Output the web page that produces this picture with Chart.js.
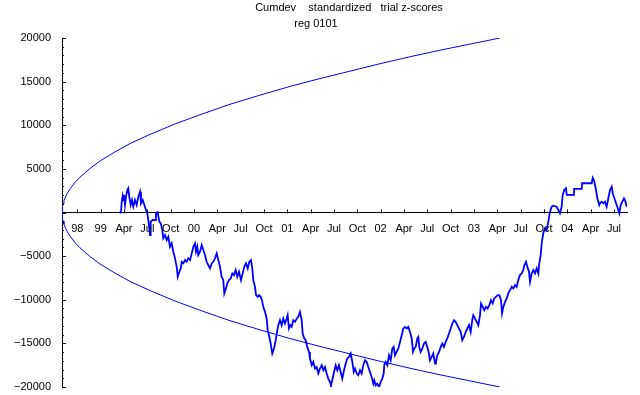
<!DOCTYPE html>
<html lang="en">
<head>
  <meta charset="UTF-8">
  <title>Cumdev standardized trial z-scores</title>
  <script src="https://cdn.jsdelivr.net/npm/chart.js"></script>
  <style>
    body, html {
      margin: 0;
      background: #fff;
    }
    #wrap {
      width: 640px;
      height: 395px;
    }
  </style>
</head>
<body>
  <div id="wrap"><canvas id="chart" width="640" height="395"></canvas></div>

  <script>
    // x values are decimal years, y values are cumulative deviation
    const titleText = 'Cumdev    standardized   trial z-scores';
    const subtitleText = 'reg 0101';

    const xMin = 1998.586;
    const xMax = 2004.64;

    const tickPositions = [1998.75, 1999.0, 1999.25, 1999.5, 1999.75, 2000.0, 2000.25, 2000.5, 2000.75,
      2001.0, 2001.25, 2001.5, 2001.75, 2002.0, 2002.25, 2002.5, 2002.75, 2003.0, 2003.25, 2003.5,
      2003.75, 2004.0, 2004.25, 2004.5];
    const tickLabels = ['98', '99', 'Apr', 'Jul', 'Oct', '00', 'Apr', 'Jul', 'Oct', '01', 'Apr', 'Jul',
      'Oct', '02', 'Apr', 'Jul', 'Oct', '03', 'Apr', 'Jul', 'Oct', '04', 'Apr', 'Jul'];
    const yTicks = [-20000, -15000, -10000, -5000, 0, 5000, 10000, 15000, 20000];

    // envelope curve
    const envDates = [1998.586, 1998.591, 1998.597, 1998.607, 1998.618, 1998.640, 1998.672, 1998.725,
      1998.779, 1998.886, 1998.993, 1999.154, 1999.315, 1999.529, 1999.797, 2000.065, 2000.386,
      2000.708, 2001.029, 2001.350, 2001.672, 2001.993, 2002.315, 2002.636, 2002.958, 2003.279];
    const envUpper = [0, 700, 1000, 1350, 1650, 2150, 2700, 3450, 4050, 5050, 5900, 6950, 7900, 8950,
      10150, 11200, 12400, 13450, 14450, 15350, 16200, 17050, 17850, 18600, 19300, 20000];
    const envLower = [0, -700, -1000, -1350, -1650, -2150, -2700, -3450, -4050, -5050, -5900, -6950,
      -7900, -8950, -10150, -11200, -12400, -13450, -14450, -15350, -16200, -17050, -17850, -18600,
      -19300, -20000];

    const dates = [1999.200, 1999.218, 1999.226, 1999.236, 1999.243, 1999.250, 1999.261, 1999.272, 1999.286,
      1999.296, 1999.307, 1999.322, 1999.336, 1999.350, 1999.368, 1999.386, 1999.404, 1999.422, 1999.432,
      1999.451, 1999.468, 1999.486, 1999.500, 1999.511, 1999.529, 1999.536, 1999.558, 1999.583, 1999.593,
      1999.611, 1999.629, 1999.644, 1999.661, 1999.671, 1999.690, 1999.708, 1999.725, 1999.743, 1999.761,
      1999.779, 1999.797, 1999.815, 1999.826, 1999.843, 1999.858, 1999.869, 1999.886, 1999.904, 1999.922,
      1999.939, 1999.958, 1999.976, 1999.993, 2000.011, 2000.022, 2000.036, 2000.046, 2000.065, 2000.083,
      2000.100, 2000.118, 2000.136, 2000.154, 2000.172, 2000.190, 2000.207, 2000.225, 2000.244, 2000.261,
      2000.279, 2000.297, 2000.314, 2000.325, 2000.343, 2000.357, 2000.375, 2000.394, 2000.411, 2000.429,
      2000.447, 2000.464, 2000.483, 2000.504, 2000.522, 2000.539, 2000.558, 2000.576, 2000.593, 2000.611,
      2000.625, 2000.636, 2000.654, 2000.665, 2000.683, 2000.697, 2000.715, 2000.729, 2000.743, 2000.761,
      2000.779, 2000.790, 2000.804, 2000.822, 2000.839, 2000.858, 2000.876, 2000.890, 2000.904, 2000.922,
      2000.940, 2000.957, 2000.975, 2000.994, 2001.004, 2001.018, 2001.032, 2001.047, 2001.064, 2001.083,
      2001.101, 2001.118, 2001.136, 2001.154, 2001.165, 2001.182, 2001.197, 2001.214, 2001.233, 2001.243,
      2001.262, 2001.279, 2001.297, 2001.315, 2001.332, 2001.350, 2001.369, 2001.386, 2001.404, 2001.422,
      2001.439, 2001.458, 2001.468, 2001.482, 2001.501, 2001.519, 2001.536, 2001.554, 2001.572, 2001.589,
      2001.608, 2001.626, 2001.643, 2001.661, 2001.679, 2001.697, 2001.712, 2001.726, 2001.744, 2001.761,
      2001.779, 2001.797, 2001.814, 2001.833, 2001.851, 2001.868, 2001.886, 2001.904, 2001.922, 2001.932,
      2001.947, 2001.964, 2001.983, 2002.001, 2002.018, 2002.033, 2002.039, 2002.054, 2002.072, 2002.090,
      2002.108, 2002.125, 2002.140, 2002.154, 2002.172, 2002.190, 2002.208, 2002.226, 2002.243, 2002.261,
      2002.279, 2002.297, 2002.315, 2002.333, 2002.347, 2002.361, 2002.376, 2002.393, 2002.404, 2002.414,
      2002.429, 2002.447, 2002.465, 2002.483, 2002.500, 2002.518, 2002.529, 2002.547, 2002.564, 2002.583,
      2002.593, 2002.607, 2002.626, 2002.644, 2002.661, 2002.679, 2002.697, 2002.714, 2002.733, 2002.751,
      2002.768, 2002.786, 2002.804, 2002.822, 2002.840, 2002.858, 2002.875, 2002.893, 2002.912, 2002.929,
      2002.947, 2002.965, 2002.982, 2002.993, 2003.011, 2003.030, 2003.047, 2003.065, 2003.076, 2003.094,
      2003.111, 2003.129, 2003.147, 2003.165, 2003.183, 2003.201, 2003.218, 2003.236, 2003.255, 2003.272,
      2003.290, 2003.301, 2003.315, 2003.333, 2003.351, 2003.368, 2003.386, 2003.405, 2003.422, 2003.440,
      2003.458, 2003.475, 2003.493, 2003.512, 2003.529, 2003.540, 2003.558, 2003.572, 2003.590, 2003.601,
      2003.619, 2003.636, 2003.654, 2003.672, 2003.690, 2003.700, 2003.715, 2003.726, 2003.743, 2003.761,
      2003.780, 2003.797, 2003.815, 2003.833, 2003.850, 2003.886, 2003.904, 2003.922, 2003.940, 2003.951,
      2003.968, 2003.986, 2003.994, 2004.072, 2004.073, 2004.155, 2004.158, 2004.262, 2004.273, 2004.286,
      2004.308, 2004.322, 2004.343, 2004.351, 2004.369, 2004.386, 2004.404, 2004.422, 2004.440, 2004.458,
      2004.476, 2004.487, 2004.511, 2004.536, 2004.558, 2004.572, 2004.590, 2004.608, 2004.619, 2004.637];

    const cumdev = [0, 0, 1240, 1890, 1435, 2010, 860, 1815, 2585,
      2780, 1815, 860, 1435, 665, 1435, 860, 1815, 2390, 1055,
      1435, 860, 285, -90, -860, -2585, -1055, -860, -860, -90,
      25, -1055, -1240, -2010, -2960, -2585, -3155, -2780, -3925, -3535,
      -4500, -5260, -6220, -7370, -6795, -6405, -5650, -5830, -5455, -5650,
      -5260, -5455, -4685, -3925, -3535, -4500, -3925, -4880, -4500, -3730,
      -4305, -4880, -5650, -6025, -6405, -5830, -5650, -5260, -4685, -5455,
      -6220, -7370, -7750, -9275, -8700, -8130, -7750, -7555, -6980, -7175,
      -6600, -7370, -6795, -7750, -6980, -6220, -5830, -6405, -5650, -5455,
      -6405, -7750, -8520, -9470, -9665, -9470, -9665, -10045, -10815, -11390,
      -12145, -13490, -14065, -15015, -16165, -15590, -14635, -13685, -12915, -12340,
      -12915, -12145, -12720, -12145, -11765, -13295, -12915, -13110, -12340, -12535,
      -12145, -11960, -11390, -12340, -13870, -14440, -14635, -15405, -15980, -16740,
      -17505, -17130, -17885, -17700, -18460, -17885, -17505, -18080, -17700, -18460,
      -19035, -19425, -19805, -19230, -18275, -17505, -18080, -17505, -18275, -19035,
      -18080, -17310, -16740, -16555, -16165, -17130, -18275, -17885, -18460, -18655,
      -18080, -18460, -17505, -16935, -17130, -17700, -18275, -18850, -19610, -19230,
      -19805, -19610, -19990, -19425, -19035, -18460, -17505, -17130, -17505, -16360,
      -16935, -15590, -15405, -16360, -15980, -15590, -14830, -14065, -13295, -13110,
      -13295, -13110, -13685, -14440, -15980, -15590, -15405, -14440, -14260, -15405,
      -15980, -15590, -15015, -14830, -15405, -16165, -16935, -16555, -16165, -17310,
      -17130, -16360, -15980, -15405, -15015, -15405, -14830, -14440, -13870, -13295,
      -12720, -12340, -12535, -12915, -13295, -13685, -14635, -14260, -13685, -13295,
      -12915, -13685, -12340, -11765, -12145, -12535, -12915, -11765, -10425, -10815,
      -11195, -10815, -11000, -10620, -10045, -10425, -9850, -9665, -9470, -9470,
      -10045, -11570, -10815, -10240, -9850, -9275, -8895, -8520, -8700, -8325,
      -8520, -7750, -7175, -6980, -6600, -6025, -5650, -6220, -6795, -7945,
      -6980, -6600, -6980, -6405, -6980, -5830, -4880, -3535, -2355, -1815,
      -2010, -1055, 90, 665, 780, 665, 285, -90, 665, 2010,
      2585, 2780, 2010, 2010, 2700, 2700, 3350, 3350, 3995, 3730,
      2585, 1630, 860, 1055, 1240, 1055, 1240, 665, 1630, 2585,
      2960, 2205, 1435, 665, -90, 860, 1240, 1630, 1435, 665];

    const FONT = "'Liberation Sans', Arial, sans-serif";
    const BLUE = '#0000ff';

    function toPoints(xs, ys) {
      return xs.map((x, i) => ({ x: x, y: ys[i] }));
    }

    // inward tick marks, x labels under the zero line, and the two title lines
    const axisMarks = {
      id: 'axisMarks',
      afterDraw(chart) {
        const ctx = chart.ctx;
        const xs = chart.scales.x;
        const ys = chart.scales.y;
        const left = chart.chartArea.left;
        const y0 = Math.round(ys.getPixelForValue(0)) + 0.5;
        ctx.save();
        ctx.strokeStyle = '#000';
        ctx.lineWidth = 1;
        ctx.beginPath();
        for (let v = -20000; v <= 20000; v += 1000) {
          const py = Math.round(ys.getPixelForValue(v)) + 0.5;
          const len = v % 5000 === 0 ? 4 : 2;
          ctx.moveTo(left, py);
          ctx.lineTo(left + len, py);
        }
        tickPositions.forEach(t => {
          const px = Math.round(xs.getPixelForValue(t)) + 0.5;
          ctx.moveTo(px, y0);
          ctx.lineTo(px, y0 - 4);
        });
        ctx.stroke();

        ctx.fillStyle = '#000';
        ctx.font = '11px ' + FONT;
        ctx.textAlign = 'center';
        ctx.textBaseline = 'middle';
        tickPositions.forEach((t, i) => {
          ctx.fillText(tickLabels[i], xs.getPixelForValue(t), y0 + 15);
        });
        ctx.fillText(titleText, 349, 8);
        ctx.fillText(subtitleText, 316, 24);
        ctx.restore();
      }
    };

    new Chart(document.getElementById('chart').getContext('2d'), {
      type: 'line',
      data: {
        datasets: [
          {
            data: toPoints(envDates, envUpper),
            borderColor: BLUE,
            borderWidth: 1,
            pointRadius: 0,
            fill: false
          },
          {
            data: toPoints(envDates, envLower),
            borderColor: BLUE,
            borderWidth: 1,
            pointRadius: 0,
            fill: false
          },
          {
            data: toPoints(dates, cumdev),
            borderColor: BLUE,
            borderWidth: 1.8,
            pointRadius: 0,
            fill: false
          }
        ]
      },
      options: {
        responsive: false,
        animation: false,
        layout: { padding: { top: 38, bottom: 8, left: 0, right: 13 } },
        plugins: {
          legend: { display: false },
          tooltip: { enabled: false },
          title: { display: false }
        },
        scales: {
          x: {
            type: 'linear',
            position: { y: 0 },
            min: xMin,
            max: xMax,
            afterBuildTicks: s => { s.ticks = tickPositions.map(v => ({ value: v })); },
            grid: { display: false, drawTicks: false },
            border: { display: true, color: '#000', width: 1 },
            ticks: { display: false }
          },
          y: {
            type: 'linear',
            min: -20000,
            max: 20000,
            afterBuildTicks: s => { s.ticks = yTicks.map(v => ({ value: v })); },
            afterFit: s => {
              s.width = 62;
              s.paddingTop = 0;
              s.paddingBottom = 0;
            },
            grid: { display: false, drawTicks: false },
            border: { display: true, color: '#000', width: 1 },
            ticks: {
              padding: 11,
              color: '#000',
              font: { family: FONT, size: 11 },
              callback: v => v === 0 ? '' : (v < 0 ? '\u2212' + Math.abs(v) : String(v))
            }
          }
        }
      },
      plugins: [axisMarks]
    });
  </script>
</body>
</html>
